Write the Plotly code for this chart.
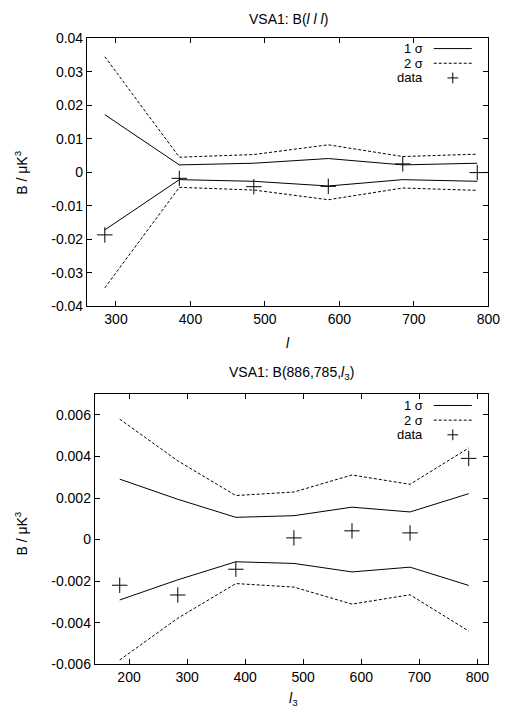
import plotly.graph_objects as go

W, H = 519, 721

# ---- top panel data: B(l l l) ----
l_top = [285, 385, 485, 585, 685, 785]
sig1_top = [0.0172, 0.0022, 0.0027, 0.0041, 0.0022, 0.0027]
sig2_top = [0.0345, 0.0045, 0.0053, 0.0082, 0.0047, 0.0054]
data_top = [-0.0187, -0.0018, -0.0043, -0.0042, 0.0025, -0.0001]

# ---- bottom panel data: B(886,785,l3) ----
l_bot = [184, 284, 384, 484, 584, 684, 785]
sig1_bot = [0.00291, 0.00194, 0.00107, 0.00115, 0.00156, 0.00133, 0.00221]
sig2_bot = [0.0058, 0.00379, 0.00212, 0.00229, 0.00311, 0.00266, 0.00441]
data_bot = [-0.0022, -0.00267, -0.00143, 0.00008, 0.00042, 0.00032, 0.00391]

# ---- tick labels ----
xt_top = [300, 400, 500, 600, 700, 800]
yt_top = [0.04, 0.03, 0.02, 0.01, 0, -0.01, -0.02, -0.03, -0.04]
yt_top_txt = ["0.04", "0.03", "0.02", "0.01", "0", "-0.01", "-0.02", "-0.03", "-0.04"]
xt_bot = [200, 300, 400, 500, 600, 700, 800]
yt_bot = [0.006, 0.004, 0.002, 0, -0.002, -0.004, -0.006]
yt_bot_txt = ["0.006", "0.004", "0.002", "0", "-0.002", "-0.004", "-0.006"]

FONT = "Liberation Sans, Arial, Helvetica, sans-serif"
FS = 14
FS_LEG = 13

def px(x):
    return x / W

def py(y):
    return 1 - y / H

fig = go.Figure()

def add_panel(xs, s1, s2, d, xa, ya):
    solid = dict(color="black", width=1)
    dashed = dict(color="black", width=1, dash="3px,2px")
    fig.add_trace(go.Scatter(x=xs, y=s1, mode="lines", line=solid, xaxis=xa, yaxis=ya, showlegend=False, hoverinfo="skip"))
    fig.add_trace(go.Scatter(x=xs, y=[-v for v in s1], mode="lines", line=solid, xaxis=xa, yaxis=ya, showlegend=False, hoverinfo="skip"))
    fig.add_trace(go.Scatter(x=xs, y=s2, mode="lines", line=dashed, xaxis=xa, yaxis=ya, showlegend=False, hoverinfo="skip"))
    fig.add_trace(go.Scatter(x=xs, y=[-v for v in s2], mode="lines", line=dashed, xaxis=xa, yaxis=ya, showlegend=False, hoverinfo="skip"))
    fig.add_trace(go.Scatter(x=xs, y=d, mode="markers",
                             marker=dict(symbol="cross-thin", size=11, line=dict(color="black", width=1)),
                             xaxis=xa, yaxis=ya, showlegend=False, hoverinfo="skip"))

add_panel(l_top, sig1_top, sig2_top, data_top, "x", "y")
add_panel(l_bot, sig1_bot, sig2_bot, data_bot, "x2", "y2")

axis_common = dict(showline=True, linecolor="black", linewidth=1, mirror="ticks",
                   ticks="inside", ticklen=5, tickcolor="black", tickwidth=1,
                   showgrid=False, zeroline=False, fixedrange=True,
                   tickfont=dict(family=FONT, size=FS, color="black"))

fig.update_layout(
    width=W, height=H,
    margin=dict(l=0, r=0, t=0, b=0),
    paper_bgcolor="white", plot_bgcolor="white",
    showlegend=False,
    xaxis=dict(domain=[px(89), px(500)], range=[261, 800], anchor="y",
               tickvals=xt_top, ticktext=[str(v) for v in xt_top], **axis_common),
    yaxis=dict(domain=[py(305), py(31)], range=[-0.04, 0.04], anchor="x",
               tickvals=yt_top, ticktext=yt_top_txt, **axis_common),
    xaxis2=dict(domain=[px(97), px(500)], range=[141, 819], anchor="y2",
                tickvals=xt_bot, ticktext=[str(v) for v in xt_bot], **axis_common),
    yaxis2=dict(domain=[py(671), py(395)], range=[-0.006, 0.007], anchor="x2",
                tickvals=yt_bot, ticktext=yt_bot_txt, **axis_common),
)

def text(x, y, s, xanchor="center", yanchor="middle", angle=0, size=FS):
    fig.add_annotation(x=px(x), y=py(y), xref="paper", yref="paper", text=s,
                       showarrow=False, xanchor=xanchor, yanchor=yanchor, textangle=angle,
                       font=dict(family=FONT, size=size, color="black"))

# titles
text(295, 11, "VSA1: B(<i>l l l</i>)")
text(298, 373, "VSA1: B(886,785,<i>l</i><sub>3</sub>)")
# axis titles
text(295, 343, "<i>l</i>")
text(300, 707, "<i>l</i><sub>3</sub>")
text(22, 168, "B / μK<sup>3</sup>", angle=-90)
text(22, 537, "B / μK<sup>3</sup>", angle=-90)

# legends (key samples drawn as shapes)
def legend(y0):
    ys = [y0, y0 + 15, y0 + 30]
    text(435, ys[0], "1 σ", xanchor="right", size=FS_LEG)
    text(435, ys[1], "2 σ", xanchor="right", size=FS_LEG)
    text(435, ys[2], "data", xanchor="right", size=FS_LEG)
    fig.add_shape(type="line", xref="paper", yref="paper", x0=px(444), x1=px(483),
                  y0=py(ys[0]), y1=py(ys[0]), line=dict(color="black", width=1))
    fig.add_shape(type="line", xref="paper", yref="paper", x0=px(444), x1=px(483),
                  y0=py(ys[1]), y1=py(ys[1]), line=dict(color="black", width=1, dash="3px,2px"))
    fig.add_shape(type="line", xref="paper", yref="paper", x0=px(458), x1=px(469),
                  y0=py(ys[2]), y1=py(ys[2]), line=dict(color="black", width=1))
    fig.add_shape(type="line", xref="paper", yref="paper", x0=px(463.5), x1=px(463.5),
                  y0=py(ys[2] - 5.5), y1=py(ys[2] + 5.5), line=dict(color="black", width=1))

legend(41.5)
legend(406.5)

fig.write_html(
    "out.html",
    config={"displayModeBar": False, "staticPlot": True},
    post_script="document.body.style.margin='0';document.body.style.overflow='hidden';"
                "document.documentElement.style.overflow='hidden';",
)
